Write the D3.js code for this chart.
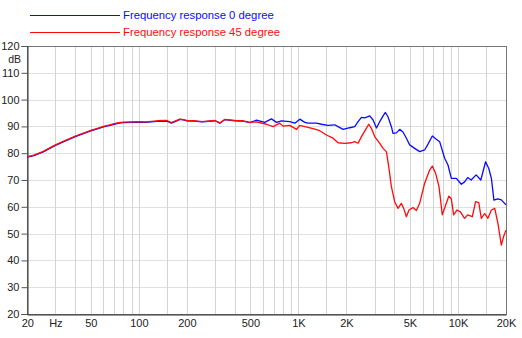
<!DOCTYPE html>
<html>
<head>
<meta charset="utf-8">
<script src="https://cdn.jsdelivr.net/npm/d3@7/dist/d3.min.js"></script>
<style>
  html, body { margin: 0; padding: 0; background: #fff; }
  svg { display: block; font-family: "Liberation Sans", Arial, sans-serif; }
</style>
</head>
<body>
<svg id="chart" width="522" height="338"></svg>
<script>
// Frequency response, 0 degree (on-axis)
const freq0 = [20, 22, 25, 30, 35, 40, 45, 50, 55, 60, 65, 70, 75, 80, 90, 100, 110, 120, 130, 150, 160, 170, 181, 190, 200, 220, 250, 300, 322, 345, 400, 450, 496, 546, 615, 678, 729, 784, 883, 949, 1021, 1096, 1150, 1298, 1394, 1535, 1690, 1772, 1906, 2098, 2254, 2366, 2484, 2606, 2800, 2938, 3085, 3236, 3394, 3509, 3642, 3826, 3917, 4111, 4315, 4523, 4751, 4982, 5354, 5755, 6183, 6490, 6907, 7315, 7677, 8253, 8658, 9085, 9765, 10500, 11000, 11500, 12100, 13000, 13900, 14900, 15600, 16200, 16800, 17800, 18700, 20000];
const db0 = [78.5, 79.1, 80.4, 82.9, 84.7, 86.2, 87.3, 88.3, 89.1, 89.8, 90.3, 90.8, 91.2, 91.4, 91.5, 91.6, 91.5, 91.7, 91.9, 92.0, 91.2, 91.9, 92.6, 92.4, 92.1, 92.0, 91.7, 92.1, 91.2, 92.5, 92.1, 92.0, 91.4, 92.3, 91.5, 92.8, 91.5, 92.1, 91.8, 91.2, 92.7, 91.5, 91.2, 91.2, 90.8, 90.4, 90.6, 89.9, 88.9, 89.5, 89.9, 91.8, 93.4, 93.2, 93.9, 92.4, 89.4, 91.8, 93.9, 95.2, 93.6, 89.9, 87.4, 87.6, 88.9, 87.9, 85.6, 83.1, 81.8, 80.6, 81.2, 83.4, 86.4, 85.2, 84.3, 78.1, 75.6, 70.6, 70.6, 68.4, 69.3, 70.9, 70.0, 71.9, 70.0, 76.8, 74.3, 70.6, 62.5, 63.0, 62.6, 60.7];

// Frequency response, 45 degree (off-axis)
const freq45 = [20, 22, 25, 30, 35, 40, 45, 50, 55, 60, 65, 70, 75, 80, 90, 100, 110, 120, 130, 150, 160, 170, 181, 190, 200, 220, 250, 300, 322, 345, 400, 450, 496, 546, 631, 694, 764, 801, 883, 973, 1021, 1096, 1236, 1361, 1499, 1649, 1772, 1951, 2148, 2254, 2366, 2484, 2642, 2762, 2871, 3008, 3236, 3394, 3560, 3682, 3826, 4011, 4209, 4416, 4567, 4751, 4933, 5224, 5484, 5755, 6183, 6644, 6907, 7246, 7604, 7980, 8373, 8779, 9085, 9392, 9851, 10350, 11000, 11500, 12300, 12900, 13500, 14000, 14700, 15400, 16200, 17000, 17800, 18700, 19300, 20000];
const db45 = [78.7, 79.3, 80.6, 83.1, 84.9, 86.4, 87.5, 88.5, 89.3, 90.0, 90.5, 91.0, 91.4, 91.6, 91.7, 91.8, 91.7, 91.9, 92.1, 92.2, 91.4, 92.1, 92.7, 92.5, 92.2, 92.1, 91.8, 92.2, 91.3, 92.6, 92.2, 92.1, 91.5, 91.7, 90.8, 89.9, 91.2, 90.1, 90.4, 88.9, 90.4, 89.9, 89.2, 88.4, 86.8, 85.6, 83.9, 83.7, 83.9, 84.3, 83.7, 86.2, 88.9, 90.8, 89.2, 86.2, 83.7, 81.8, 80.6, 75.0, 67.5, 61.9, 59.4, 61.3, 59.4, 56.3, 58.8, 59.7, 58.6, 61.3, 68.8, 73.7, 75.2, 72.5, 67.5, 57.0, 60.7, 64.0, 63.0, 57.0, 58.8, 58.1, 55.7, 57.0, 56.3, 61.9, 61.6, 55.7, 57.5, 55.7, 58.8, 59.4, 53.8, 45.7, 48.8, 51.3];

// Grid and tick definitions
const gridFreqs = [20, 30, 40, 50, 60, 70, 80, 90, 100, 150, 200, 300, 400, 500, 600, 700, 800, 900, 1000, 1500, 2000, 3000, 4000, 5000, 6000, 7000, 8000, 9000, 10000, 15000, 20000];
const xTickValues = [20, 30, 50, 100, 200, 500, 1000, 2000, 5000, 10000, 20000];
const xTickLabels = ["20", "Hz", "50", "100", "200", "500", "1K", "2K", "5K", "10K", "20K"];
const yTickValues = [20, 30, 40, 50, 60, 70, 80, 90, 100, 110, 120];

const seriesNames = ["Frequency response 0 degree", "Frequency response 45 degree"];
const seriesColors = ["#0a0aff", "#ff0a0a"];

const svg = d3.select("#chart");
const plotLeft = 27.3, plotRight = 506, plotTop = 46, plotBottom = 314;

const x = d3.scaleLog().domain([20, 20000]).range([plotLeft, plotRight]);
const y = d3.scaleLinear().domain([20, 120]).range([plotBottom, plotTop]);

// grid lines
svg.append("g").selectAll("line").data(yTickValues).join("line")
  .attr("x1", plotLeft).attr("x2", plotRight)
  .attr("y1", d => Math.round(y(d)) + 0.5).attr("y2", d => Math.round(y(d)) + 0.5)
  .attr("stroke", "#e0e0e0").attr("stroke-width", 1);

svg.append("g").selectAll("line").data(gridFreqs).join("line")
  .attr("x1", d => Math.round(x(d)) + 0.5).attr("x2", d => Math.round(x(d)) + 0.5)
  .attr("y1", plotTop).attr("y2", plotBottom)
  .attr("stroke", "#d4d4d4").attr("stroke-width", 1);

// frame
svg.append("rect")
  .attr("x", Math.round(plotLeft) + 0.5).attr("y", Math.round(plotTop) + 0.5)
  .attr("width", Math.round(plotRight) - Math.round(plotLeft))
  .attr("height", Math.round(plotBottom) - Math.round(plotTop))
  .attr("fill", "none").attr("stroke", "#777").attr("stroke-width", 1);

// axes
const xAxis = d3.axisBottom(x).tickValues(xTickValues)
  .tickFormat((d, i) => xTickLabels[i]).tickSize(0).tickPadding(5);
const gx = svg.append("g").attr("transform", `translate(0,${Math.round(plotBottom) + 0.5})`).call(xAxis);
gx.select(".domain").attr("stroke", "#333");
gx.selectAll("text").attr("font-size", 11).attr("fill", "#222")
  .attr("font-family", "'Liberation Sans', Arial, sans-serif");

const yAxis = d3.axisLeft(y).tickValues(yTickValues).tickSize(6).tickPadding(2);
const gy = svg.append("g").attr("transform", `translate(${Math.round(plotLeft) + 0.5},0)`).call(yAxis);
gy.select(".domain").attr("stroke", "#333");
gy.selectAll(".tick line").attr("stroke", "#555");
gy.selectAll("text").attr("font-size", 11).attr("fill", "#222")
  .attr("font-family", "'Liberation Sans', Arial, sans-serif");

svg.append("text").attr("x", 21).attr("y", 63).attr("text-anchor", "end")
  .attr("font-size", 10.5).attr("fill", "#222").text("dB");

// curves
const line = d3.line().x(d => x(d[0])).y(d => y(d[1]));
const series = [d3.zip(freq0, db0), d3.zip(freq45, db45)];
series.forEach((s, i) => {
  svg.append("path").datum(s)
    .attr("d", line)
    .attr("fill", "none")
    .attr("stroke", seriesColors[i])
    .attr("stroke-width", 1.3)
    .attr("stroke-linejoin", "round");
});

// legend
const legend = svg.append("g");
seriesNames.forEach((name, i) => {
  const ly = 15 + i * 17;
  legend.append("line").attr("x1", 30).attr("x2", 120)
    .attr("y1", ly + 0.5).attr("y2", ly + 0.5)
    .attr("stroke", seriesColors[i]).attr("stroke-width", 1);
  legend.append("text").attr("x", 123).attr("y", ly + 4)
    .attr("font-size", 11.3).attr("fill", seriesColors[i]).text(name);
});
</script>
</body>
</html>
